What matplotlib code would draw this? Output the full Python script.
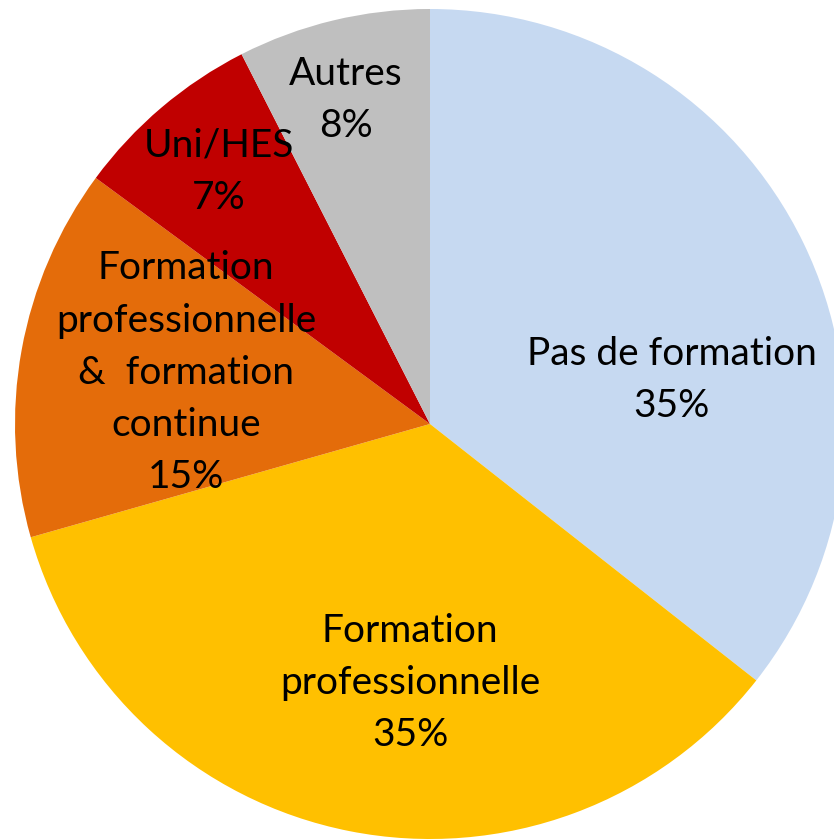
import matplotlib.pyplot as plt

labels = ['Pas de formation', 'Formation\nprofessionnelle',
          'Formation\nprofessionnelle\n&  formation\ncontinue', 'Uni/HES', 'Autres']
# slice sizes, printed percentages as shown
shares = [35.6, 35.0, 14.5, 7.4, 7.5]
pct_labels = ['35%', '35%', '15%', '7%', '8%']
colors = ['#C6D9F1', '#FFC000', '#E46C0A', '#C00000', '#BFBFBF']
# label block centres, in units of pie radius
label_pos = [(0.583, 0.106), (-0.048, -0.624), (-0.588, 0.123), (-0.508, 0.607), (-0.202, 0.781)]

plt.rcParams['font.family'] = ['Lato', 'DejaVu Sans']

fig = plt.figure(figsize=(8.34, 8.40), dpi=100)
ax = fig.add_axes([0, 0, 1, 1])
ax.pie(shares, colors=colors, startangle=90, counterclock=False, radius=1.0)

for lab, pct, (x, y) in zip(labels, pct_labels, label_pos):
    ax.text(x, y, f'{lab}\n{pct}', ha='center', va='center', fontsize=28,
            linespacing=1.56, color='black')

R = 415
ax.set_xlim(-430 / R, (834 - 430) / R)
ax.set_ylim(-(840 - 424) / R, 424 / R)
ax.set_aspect('auto')
ax.axis('off')

fig.savefig('out.png', dpi=100)
